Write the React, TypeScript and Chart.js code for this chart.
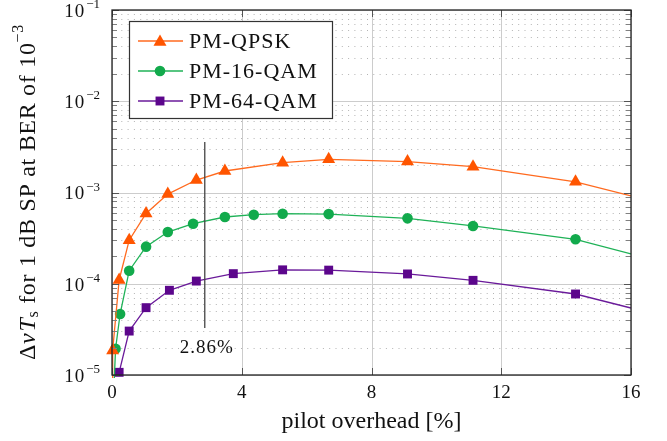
import React, { useEffect, useRef } from 'react';
import { Chart, registerables } from 'chart.js';
Chart.register(...registerables);

// ---- data ----
const qpskX = [0.0, 0.02, 0.22, 0.53, 1.05, 1.72, 2.6, 3.48, 5.26, 6.68, 9.11, 11.13, 14.29, 16];
const qpskY = [5e-6, 1.86e-5, 1.1e-4, 3.0e-4, 5.9e-4, 9.6e-4, 1.37e-3, 1.72e-3, 2.12e-3, 2.31e-3, 2.18e-3, 1.92e-3, 1.31e-3, 9.2e-4];
const qam16X = [0.04, 0.11, 0.25, 0.53, 1.05, 1.72, 2.5, 3.48, 4.37, 5.26, 6.68, 9.11, 11.13, 14.29, 16];
const qam16Y = [5e-6, 1.94e-5, 4.66e-5, 1.39e-4, 2.55e-4, 3.69e-4, 4.55e-4, 5.39e-4, 5.71e-4, 5.86e-4, 5.8e-4, 5.21e-4, 4.3e-4, 3.07e-4, 2.12e-4];
const qam64X = [0.22, 0.53, 1.05, 1.77, 2.6, 3.74, 5.26, 6.68, 9.11, 11.13, 14.29, 16];
const qam64Y = [1.07e-5, 3.03e-5, 5.47e-5, 8.48e-5, 1.07e-4, 1.29e-4, 1.42e-4, 1.41e-4, 1.28e-4, 1.09e-4, 7.72e-5, 5.42e-5];
const seriesNames = ['PM-QPSK', 'PM-16-QAM', 'PM-64-QAM'];
const xTicks = [0, 4, 8, 12, 16];
const yDecades = [-5, -4, -3, -2, -1];
const markerX = 2.86;
const markerYRange = [3.27e-5, 3.57e-3];
const markerLabel = '2.86%';

const FONT = '"Liberation Serif", "DejaVu Serif", serif';
const styles = [
  { line: '#ff6a1f', fill: '#ff5500', shape: 'triangle', r: 7.5 },
  { line: '#1fb257', fill: '#12aa4c', shape: 'circle', r: 5.3 },
  { line: '#6a1a9a', fill: '#5c068c', shape: 'rect', r: 6.3 },
];

function drawMarker(ctx: CanvasRenderingContext2D, shape: string, x: number, y: number, r: number, color: string) {
  ctx.save();
  ctx.fillStyle = color;
  ctx.beginPath();
  if (shape === 'triangle') {
    ctx.moveTo(x, y - r);
    ctx.lineTo(x + r * 0.866, y + r * 0.5);
    ctx.lineTo(x - r * 0.866, y + r * 0.5);
    ctx.closePath();
  } else if (shape === 'circle') {
    ctx.arc(x, y, r, 0, Math.PI * 2);
  } else {
    const s = r * Math.SQRT1_2;
    ctx.rect(x - s, y - s, 2 * s, 2 * s);
  }
  ctx.fill();
  ctx.restore();
}

function setSpacing(ctx: any, v: string) {
  try { ctx.letterSpacing = v; } catch (e) { /* ignore */ }
}

const deco = {
  id: 'deco',
  beforeDatasetsDraw(chart: any) {
    const { ctx, chartArea: a, scales } = chart;
    const xs = scales.x, ys = scales.y;
    ctx.save();
    // minor dotted horizontal grid
    ctx.strokeStyle = '#b4b4b4';
    ctx.lineWidth = 1;
    ctx.setLineDash([1, 5.3]);
    for (const k of yDecades.slice(0, -1)) {
      for (let m = 2; m <= 9; m++) {
        const y = Math.round(ys.getPixelForValue(m * Math.pow(10, k))) + 0.5;
        ctx.beginPath();
        ctx.moveTo(a.left + 3, y);
        ctx.lineTo(a.right, y);
        ctx.stroke();
      }
    }
    ctx.setLineDash([]);
    // major grid
    ctx.strokeStyle = '#cccccc';
    for (const k of yDecades) {
      const y = Math.round(ys.getPixelForValue(Math.pow(10, k))) + 0.5;
      ctx.beginPath();
      ctx.moveTo(a.left, y);
      ctx.lineTo(a.right, y);
      ctx.stroke();
    }
    for (const t of xTicks) {
      const x = Math.round(xs.getPixelForValue(t)) + 0.5;
      ctx.beginPath();
      ctx.moveTo(x, a.top);
      ctx.lineTo(x, a.bottom);
      ctx.stroke();
    }
    ctx.restore();
  },
  afterDatasetsDraw(chart: any) {
    const { ctx, chartArea: a, scales } = chart;
    const xs = scales.x, ys = scales.y;
    ctx.save();
    // y minor/major ticks (inside, both sides)
    ctx.strokeStyle = '#808080';
    ctx.lineWidth = 1;
    for (const k of yDecades.slice(0, -1)) {
      for (let m = 2; m <= 9; m++) {
        const y = Math.round(ys.getPixelForValue(m * Math.pow(10, k))) + 0.5;
        ctx.beginPath();
        ctx.moveTo(a.left, y); ctx.lineTo(a.left + 5, y);
        ctx.moveTo(a.right, y); ctx.lineTo(a.right - 5, y);
        ctx.stroke();
      }
    }
    ctx.strokeStyle = '#555';
    for (const k of yDecades) {
      const y = Math.round(ys.getPixelForValue(Math.pow(10, k))) + 0.5;
      ctx.beginPath();
      ctx.moveTo(a.left, y); ctx.lineTo(a.left + 7, y);
      ctx.moveTo(a.right, y); ctx.lineTo(a.right - 7, y);
      ctx.stroke();
    }
    for (const t of xTicks) {
      const x = Math.round(xs.getPixelForValue(t)) + 0.5;
      ctx.beginPath();
      ctx.moveTo(x, a.bottom); ctx.lineTo(x, a.bottom - 7);
      ctx.moveTo(x, a.top); ctx.lineTo(x, a.top + 7);
      ctx.stroke();
    }
    // frame
    ctx.strokeStyle = '#222';
    ctx.lineWidth = 1.3;
    ctx.strokeRect(a.left, a.top, a.right - a.left, a.bottom - a.top);

    // vertical marker line
    const vx = xs.getPixelForValue(markerX);
    ctx.strokeStyle = '#444';
    ctx.lineWidth = 1.3;
    ctx.beginPath();
    ctx.moveTo(vx, ys.getPixelForValue(markerYRange[1]));
    ctx.lineTo(vx, ys.getPixelForValue(markerYRange[0]));
    ctx.stroke();
    ctx.fillStyle = '#111';
    ctx.font = `19px ${FONT}`;
    setSpacing(ctx, '1px');
    ctx.textAlign = 'center';
    ctx.textBaseline = 'middle';
    ctx.fillText(markerLabel, vx + 2, ys.getPixelForValue(markerYRange[0]) + 20);
    setSpacing(ctx, '0px');

    // x tick labels
    ctx.fillStyle = '#111';
    ctx.font = `19px ${FONT}`;
    ctx.textAlign = 'center';
    ctx.textBaseline = 'middle';
    for (const t of xTicks) {
      ctx.fillText(String(t), xs.getPixelForValue(t), a.bottom + 18);
    }
    // y tick labels 10^k
    for (const k of yDecades) {
      const y = ys.getPixelForValue(Math.pow(10, k));
      const exp = '\u2212' + Math.abs(k);
      ctx.font = `13px ${FONT}`;
      ctx.textAlign = 'right';
      ctx.textBaseline = 'alphabetic';
      const ew = ctx.measureText(exp).width;
      ctx.fillText(exp, a.left - 12, y - 2);
      ctx.font = `19px ${FONT}`;
      setSpacing(ctx, '1px');
      ctx.textBaseline = 'middle';
      ctx.fillText('10', a.left - 13 - ew, y + 2);
      setSpacing(ctx, '0px');
    }
    // x title
    ctx.font = `24px ${FONT}`;
    ctx.textAlign = 'center';
    ctx.textBaseline = 'middle';
    ctx.fillText('pilot overhead [%]', (a.left + a.right) / 2, a.bottom + 47);

    // y title (rotated, rich)
    const segs = [
      { t: '\u0394', f: `24px ${FONT}`, dy: 0 },
      { t: '\u03bd', f: `italic 24px ${FONT}`, dy: 0 },
      { t: 'T', f: `italic 24px ${FONT}`, dy: 0 },
      { t: 's', f: `16px ${FONT}`, dy: 5 },
      { t: ' for 1 dB SP at BER of 10', f: `24px ${FONT}`, dy: 0 },
      { t: '\u22123', f: `16px ${FONT}`, dy: -10 },
    ];
    setSpacing(ctx, '0.7px');
    let total = 0;
    const widths = segs.map((s) => { ctx.font = s.f; const w = ctx.measureText(s.t).width; total += w; return w; });
    ctx.save();
    ctx.translate(28, (a.top + a.bottom) / 2);
    ctx.rotate(-Math.PI / 2);
    ctx.textAlign = 'left';
    ctx.textBaseline = 'middle';
    let cx = -total / 2;
    segs.forEach((s, i) => {
      ctx.font = s.f;
      ctx.fillText(s.t, cx, s.dy + 1);
      cx += widths[i] + (i === 1 ? 1 : 0);
    });
    ctx.restore();
    setSpacing(ctx, '0px');

    // legend
    const lx = 129, ly = 21, lw = 203, lh = 97;
    ctx.fillStyle = '#fff';
    ctx.fillRect(lx, ly, lw, lh);
    ctx.strokeStyle = '#333';
    ctx.lineWidth = 1.2;
    ctx.strokeRect(lx + 0.5, ly + 0.5, lw, lh);
    seriesNames.forEach((name, i) => {
      const y = ly + 20 + i * 30;
      const st = styles[i];
      ctx.strokeStyle = st.line;
      ctx.lineWidth = 1.3;
      ctx.beginPath();
      ctx.moveTo(lx + 9, y);
      ctx.lineTo(lx + 54, y);
      ctx.stroke();
      drawMarker(ctx, st.shape, lx + 31, y + (st.shape === 'triangle' ? 1 : 0), st.r, st.fill);
      ctx.fillStyle = '#111';
      ctx.font = `22px ${FONT}`;
      setSpacing(ctx, '1px');
      ctx.textAlign = 'left';
      ctx.textBaseline = 'middle';
      ctx.fillText(name, lx + 60, y + 1);
      setSpacing(ctx, '0px');
    });
    ctx.restore();
  },
};

function mk(xs: number[], ys: number[]) {
  return xs.map((x, i) => ({ x, y: ys[i] }));
}

export default function App() {
  const ref = useRef<HTMLCanvasElement>(null);
  useEffect(() => {
    if (!ref.current) return;
    const sets = [mk(qpskX, qpskY), mk(qam16X, qam16Y), mk(qam64X, qam64Y)];
    const chart = new Chart(ref.current, {
      type: 'line',
      data: {
        datasets: sets.map((d, i) => ({
          label: seriesNames[i],
          data: d,
          borderColor: styles[i].line,
          backgroundColor: styles[i].fill,
          borderWidth: 1.3,
          pointStyle: styles[i].shape as any,
          pointRadius: (c: any) => (c.raw && c.raw.x >= 16 ? 0 : styles[i].r),
          pointBorderWidth: 0,
          pointBackgroundColor: styles[i].fill,
          pointBorderColor: styles[i].fill,
          tension: 0,
          fill: false,
          clip: { left: 6, top: 0, right: 0, bottom: 3 } as any,
        })),
      },
      options: {
        animation: false,
        responsive: false,
        events: [],
        layout: { padding: { top: 10, right: 36, left: 0, bottom: 0 } },
        plugins: { legend: { display: false }, tooltip: { enabled: false } },
        scales: {
          x: {
            type: 'linear', min: 0, max: 16,
            ticks: { display: false, stepSize: 4 },
            grid: { display: false }, border: { display: false },
            afterFit: (s: any) => { s.height = 66; },
          },
          y: {
            type: 'logarithmic', min: 1e-5, max: 1e-1,
            ticks: { display: false },
            grid: { display: false }, border: { display: false },
            afterFit: (s: any) => { s.width = 112; },
          },
        },
      } as any,
      plugins: [deco],
    });
    return () => chart.destroy();
  }, []);
  return (
    <div style={{ position: 'fixed', left: 0, top: 0, width: 667, height: 441, background: '#fff' }}>
      <canvas ref={ref} width={667} height={441} style={{ width: 667, height: 441, display: 'block' }} />
    </div>
  );
}
